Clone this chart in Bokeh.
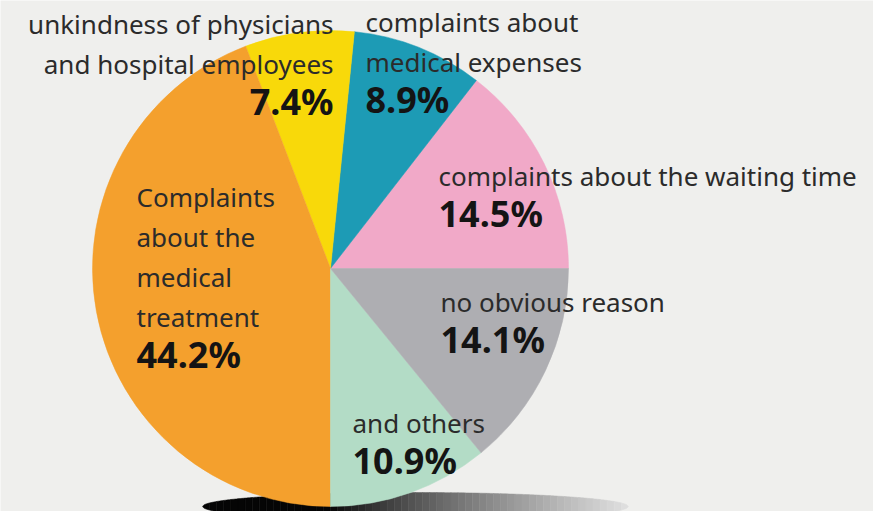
import numpy as np
from bokeh.plotting import figure
from bokeh.models import ColumnDataSource
from bokeh.core.properties import value
from bokeh.embed import file_html
from bokeh.resources import INLINE

# ---------------- data ----------------
categories = ["complaints about the waiting time", "complaints about medical expenses",
              "unkindness of physicians and hospital employees",
              "Complaints about the medical treatment", "and others", "no obvious reason"]
shares = [14.5, 8.9, 7.4, 44.2, 10.9, 14.1]
pct_labels = ["14.5%", "8.9%", "7.4%", "44.2%", "10.9%", "14.1%"]
label_lines = [
    ["complaints about the waiting time"],
    ["complaints about", "medical expenses"],
    ["unkindness of physicians", "and hospital employees"],
    ["Complaints", "about the", "medical", "treatment"],
    ["and others"],
    ["no obvious reason"],
]
colors = ["#f1a9c8", "#1d9bb5", "#f8d90a", "#f4a02d", "#b3dcc6", "#aeaeb2"]

# ---------------- layout (pixels) ----------------
W, H = 873, 511
BG = "#efefed"
cx, cy, R = 330, 243, 238
# text anchors: (x, baseline y of the percentage line, align)
anchors = [(438, 284, "left"), (365, 398, "left"), (333, 396, "right"),
           (136, 143, "left"), (352, 37, "left"), (440, 158, "left")]
line_gap = 40
LBL_FS, PCT_FS = 26, 36
# bokeh places "alphabetic" text a little low; compensate
lbl_off, pct_off = 0.4 * LBL_FS, 0.4 * PCT_FS

p = figure(width=W, height=H, x_range=(0, W), y_range=(0, H),
           output_backend="svg", toolbar_location=None, min_border=0)
p.axis.visible = False
p.grid.visible = False
p.outline_line_color = None
p.background_fill_color = BG
p.border_fill_color = BG

# ---- shadow under pie (gradient approximated by strips) ----
sx, sy, sa, sb = 415, 5, 213, 14
edges = np.linspace(sx - sa, sx + sa, 61)
xs, ys, fills = [], [], []
for i in range(len(edges) - 1):
    x0, x1 = edges[i], edges[i + 1]
    xx = np.linspace(x0, x1, 6)
    hh = sb * np.sqrt(np.clip(1 - ((xx - sx) / sa) ** 2, 0, 1))
    xs.append(list(xx) + list(xx[::-1]))
    ys.append(list(sy + hh) + list((sy - hh)[::-1]))
    t = (0.5 * (x0 + x1) - (sx - sa)) / (2 * sa)
    if t < 0.3:
        g = 5
    else:
        g = int(5 + (225 - 5) * ((t - 0.3) / 0.7) ** 0.8)
    fills.append("#%02x%02x%02x" % (g, g, g))
p.patches(xs, ys, fill_color=fills, line_color=fills, line_width=0.5)

# ---- pie ----
fr = np.array(shares) / sum(shares)
ends = np.cumsum(fr) * 2 * np.pi
starts = np.concatenate([[0], ends[:-1]])
src = ColumnDataSource(dict(start=starts, end=ends, color=colors))
p.wedge(x=cx, y=cy, radius=R, start_angle="start", end_angle="end",
        fill_color="color", line_color="color", line_width=0.5, source=src)

# ---- labels ----
for lines, pct, (ax, ay, al) in zip(label_lines, pct_labels, anchors):
    n = len(lines)
    ys_l = [ay + 1 + (n - i) * line_gap + lbl_off for i in range(n)]
    p.text(x=[ax] * n, y=ys_l, text=lines, text_font=value("Noto Sans"),
           text_font_size=f"{LBL_FS}px", text_color="#2b2b2b", text_align=al,
           text_baseline="alphabetic")
    p.text(x=[ax], y=[ay + pct_off], text=[pct], text_font=value("Noto Sans"),
           text_font_size=f"{PCT_FS}px", text_font_style="bold", text_color="#141414",
           text_align=al, text_baseline="alphabetic")

open("out.html", "w").write(file_html(p, INLINE))
